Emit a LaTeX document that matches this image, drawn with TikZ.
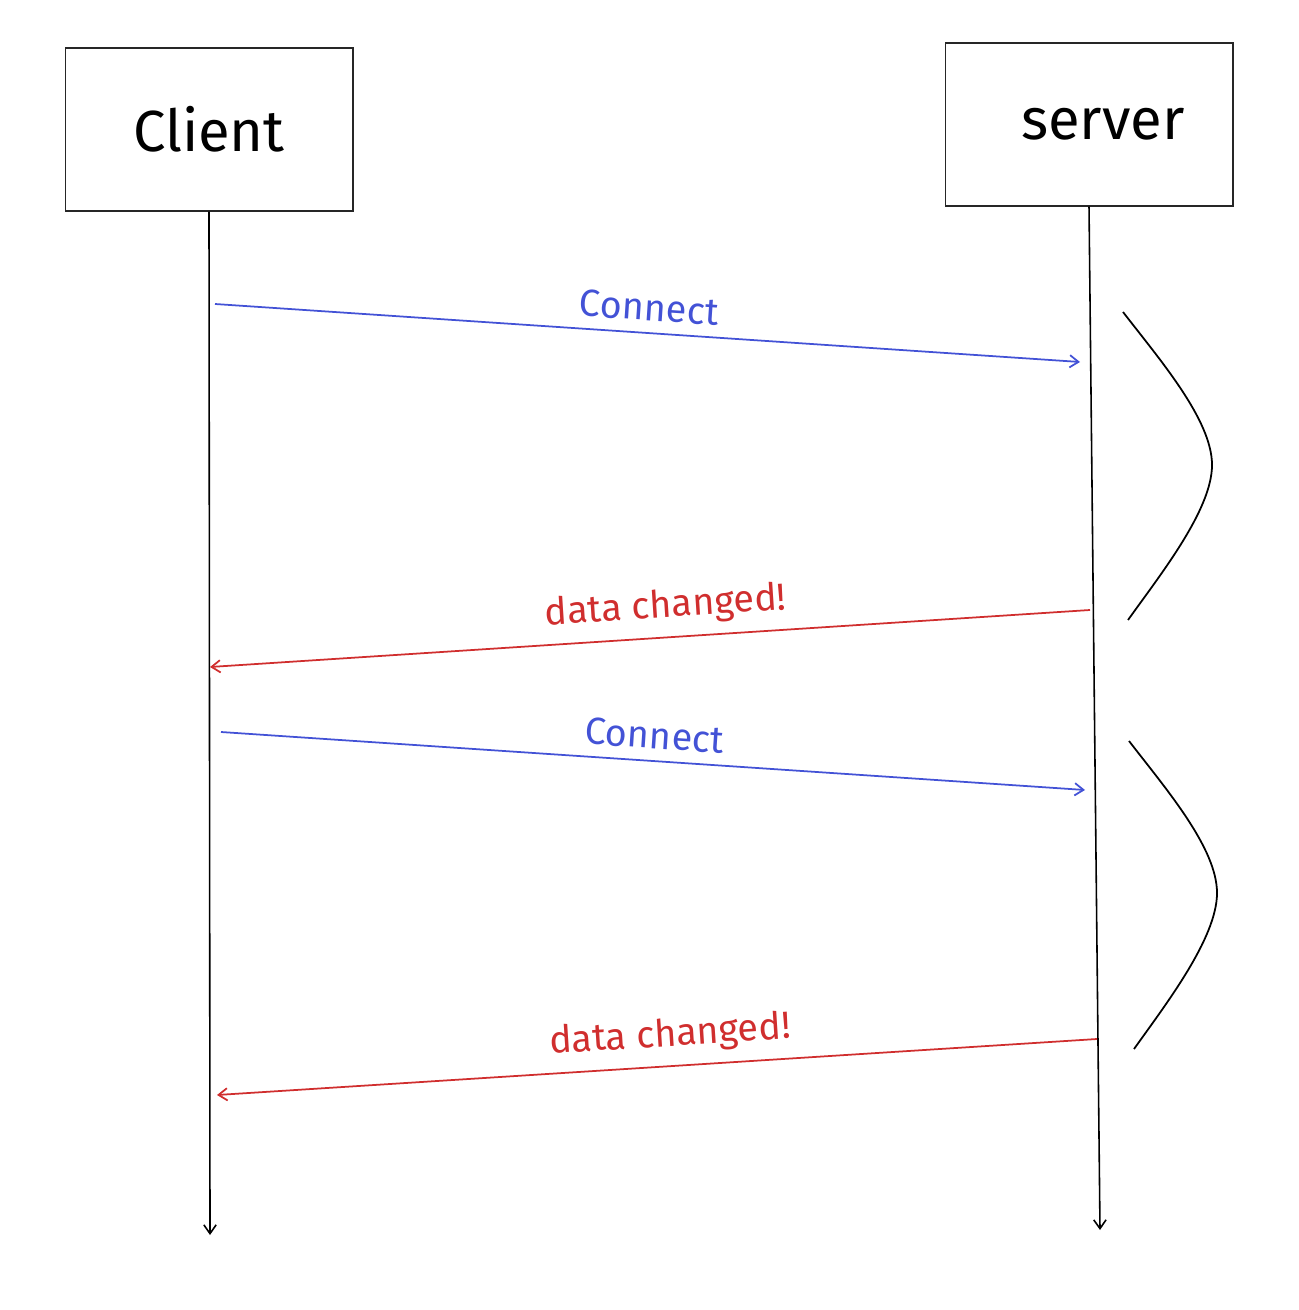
\documentclass[tikz,border=0pt]{standalone}
\usepackage{fontspec}
\setmainfont{Fira Sans}
\usetikzlibrary{arrows.meta}
\definecolor{msgblue}{RGB}{67,82,214}
\definecolor{msgred}{RGB}{208,46,46}

\begin{document}
\begin{tikzpicture}[x=0.02cm,y=-0.02cm,>={Straight Barb[length=5pt,width=7pt]},
    actor/.style={draw=black!85, line width=0.6pt, minimum width=5.76cm, minimum height=3.26cm, font=\fontsize{33}{40}\selectfont},
    msg/.style={->, line width=1pt},
    msglabel/.style={sloped, above=3pt, font=\fontsize{21.5}{25}\selectfont}]
    \useasboundingbox (0,0) rectangle (1298,1310);
    \begin{scope}
        \node [actor] (client) at (209,129.5) {Client};
        \node [actor] (server) at (1089,124.5) {\hspace*{0.55cm}server};
        \coordinate (cend) at (210,1235);
        \coordinate (send) at (1100,1230);
        \draw [->, line width=0.9pt] (client.south) -- (cend);
        \draw [->, line width=0.9pt] (server.south) -- (send);
    \end{scope}
    % messages
    \coordinate (c1) at (215,304);   \coordinate (s1) at (1080,362);
    \coordinate (s2) at (1090,610);  \coordinate (c2) at (210,667);
    \coordinate (c3) at (221,732);   \coordinate (s3) at (1085,790);
    \coordinate (s4) at (1097,1039); \coordinate (c4) at (217,1095);
    \draw [msg, msgblue] (c1) -- node [msglabel] {Connect} (s1);
    \draw [msg, msgred] (s2) -- node [msglabel, pos=0.48] {data changed!} (c2);
    \draw [msg, msgblue] (c3) -- node [msglabel] {Connect} (s3);
    \draw [msg, msgred] (s4) -- node [msglabel, pos=0.483] {data changed!} (c4);
    % waiting
    \draw [line width=1pt] (1123,312) .. controls (1160,360) and (1212,420) .. (1212,465)
        .. controls (1212,510) and (1160,575) .. (1128,620);
    \draw [line width=1pt] (1129,741) .. controls (1166,789) and (1217,848) .. (1217,893)
        .. controls (1217,938) and (1166,1004) .. (1134,1049);
\end{tikzpicture}
\end{document}
